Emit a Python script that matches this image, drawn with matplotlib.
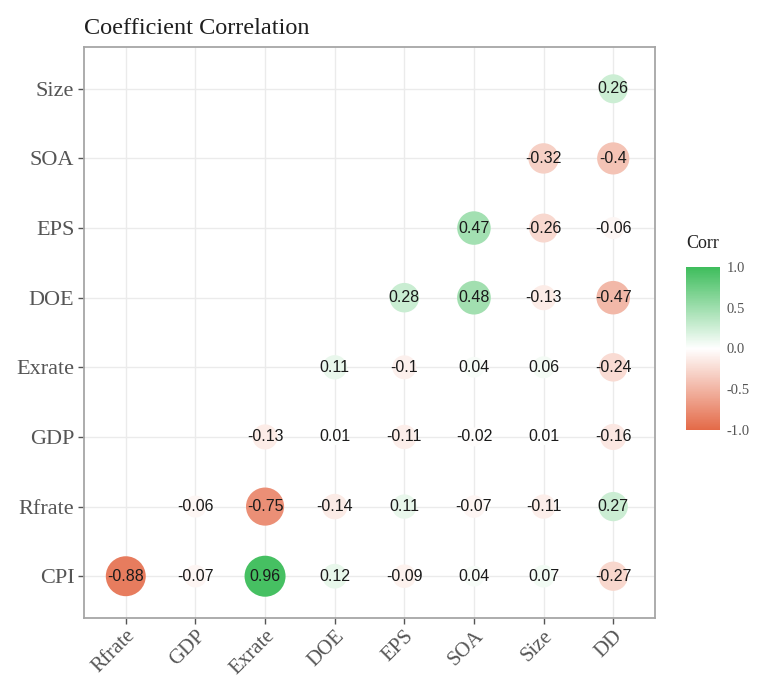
import numpy as np
import matplotlib
matplotlib.use("Agg")
import matplotlib.pyplot as plt
from matplotlib.colors import LinearSegmentedColormap, Normalize
from matplotlib.colorbar import ColorbarBase

# Variables on each axis
x_vars = ["Rfrate", "GDP", "Exrate", "DOE", "EPS", "SOA", "Size", "DD"]
y_vars = ["CPI", "Rfrate", "GDP", "Exrate", "DOE", "EPS", "SOA", "Size"]

# Lower-triangle correlations, one list per row (row k starts at column k)
r_cpi = [-0.88, -0.07, 0.96, 0.12, -0.09, 0.04, 0.07, -0.27]
r_rfrate = [-0.06, -0.75, -0.14, 0.11, -0.07, -0.11, 0.27]
r_gdp = [-0.13, 0.01, -0.11, -0.02, 0.01, -0.16]
r_exrate = [0.11, -0.1, 0.04, 0.06, -0.24]
r_doe = [0.28, 0.48, -0.13, -0.47]
r_eps = [0.47, -0.26, -0.06]
r_soa = [-0.32, -0.4]
r_size = [0.26]
rows = [r_cpi, r_rfrate, r_gdp, r_exrate, r_doe, r_eps, r_soa, r_size]

low_col, mid_col, high_col = "#E46A48", "#FFFFFF", "#3EBD5C"
cmap = LinearSegmentedColormap.from_list("corr", [low_col, mid_col, high_col])
norm = Normalize(-1, 1)

W, H, DPI = 760, 679, 100
fig = plt.figure(figsize=(W / DPI, H / DPI), dpi=DPI)
ax = fig.add_axes([84 / W, 1 - 618 / H, (655 - 84) / W, (618 - 47) / H])

serif = ["Liberation Serif", "DejaVu Serif"]
sans = ["Liberation Sans", "DejaVu Sans"]

xs, ys, vals = [], [], []
for i, row in enumerate(rows):
    for k, v in enumerate(row):
        xs.append(i + k)
        ys.append(i)
        vals.append(v)
xs = np.array(xs)
ys = np.array(ys)
vals = np.array(vals)

# Point size: area rescaled between min and max |r| (diameter 16-41 px)
a = np.abs(vals)
t = (a - a.min()) / (a.max() - a.min())
d_px = 16.4 + (41 - 16.4) * np.sqrt(t)
d_pt = d_px * 72 / DPI
ax.scatter(xs, ys, s=d_pt ** 2, c=vals, cmap=cmap, norm=norm,
           edgecolors="none", zorder=3)

for x, y, v in zip(xs, ys, vals):
    ax.text(x, y, f"{v:g}", ha="center", va="center", fontsize=11.5,
            family=sans, color="#1a1a1a", zorder=4)

n = len(x_vars)
ax.set_xlim(-0.6, n - 1 + 0.6)
ax.set_ylim(-0.6, n - 1 + 0.6)
ax.set_xticks(range(n))
ax.set_yticks(range(n))
ax.set_xticklabels(x_vars, rotation=45, ha="right", va="top",
                   rotation_mode="anchor", family=serif, fontsize=15,
                   color="#555555")
ax.set_yticklabels(y_vars, family=serif, fontsize=16, color="#555555")
ax.tick_params(length=4, width=1, color="#555555", pad=3)
ax.tick_params(axis="x", pad=2)
ax.grid(True, color="#ebebeb", lw=1.0, zorder=0)
ax.set_axisbelow(True)
for s in ax.spines.values():
    s.set_color("#a6a6a6")
    s.set_linewidth(1.3)

fig.text(84 / W, 1 - 28 / H, "Coefficient Correlation", family=serif,
         fontsize=17.5, color="#1f1f1f", ha="left", va="center")

# Colour bar legend
cax = fig.add_axes([686 / W, 1 - 430 / H, 34 / W, 163 / H])
cb = ColorbarBase(cax, cmap=cmap, norm=norm, orientation="vertical")
cb.outline.set_visible(False)
cb.set_ticks([-1, -0.5, 0, 0.5, 1])
cb.set_ticklabels(["-1.0", "-0.5", "0.0", "0.5", "1.0"])
cax.tick_params(length=0, labelsize=10.5, labelcolor="#555555", pad=5)
for lab in cax.get_yticklabels():
    lab.set_family(serif)
fig.text(686 / W, 1 - 243 / H, "Corr", family=serif, fontsize=13,
         color="#222222", ha="left", va="center")

fig.savefig("out.png", dpi=DPI)
